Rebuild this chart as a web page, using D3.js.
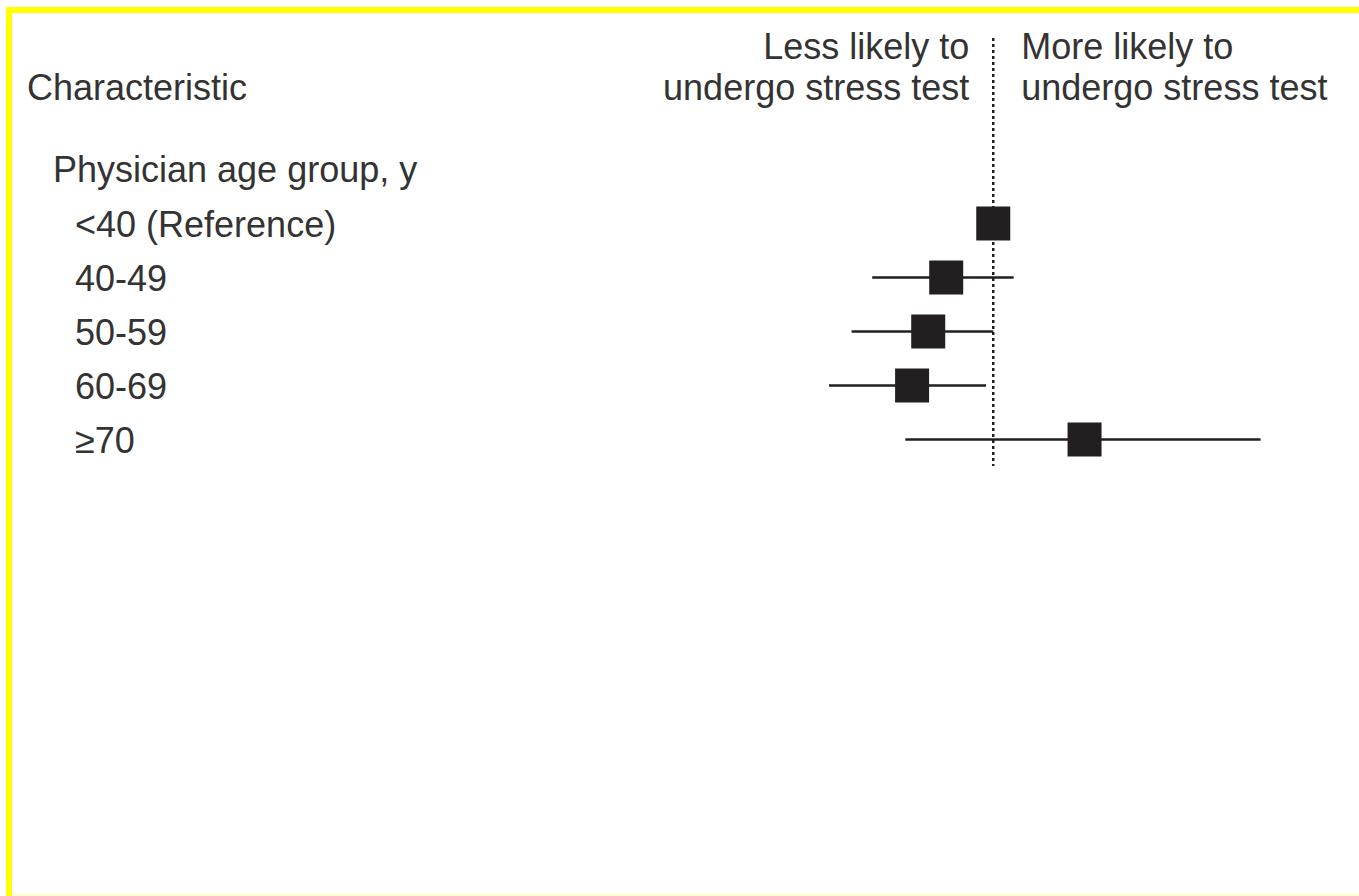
<!DOCTYPE html>
<html>
<head>
<meta charset="utf-8">
<script src="https://cdn.jsdelivr.net/npm/d3@7"></script>
<style>
  body { margin: 0; background: #fff; }
  text { font-family: "Liberation Sans", Arial, sans-serif; fill: #333; }
</style>
</head>
<body>
<svg width="1359" height="896"></svg>
<script>
/* forest plot */

// DATA ///////////////////////////////////////////////////////////////////////
const groupTitle = 'Physician age group, y';
const categories = ['<40 (Reference)', '40-49', '50-59', '60-69', '\u226570'];
const oddsRatio = [1.0, 0.82, 0.76, 0.71, 1.47];
const ciLow = [null, 0.6, 0.55, 0.5, 0.69];
const ciHigh = [null, 1.09, 1.0, 0.97, 3.09];
const leftHeader = ['Less likely to', 'undergo stress test'];
const rightHeader = ['More likely to', 'undergo stress test'];

// SET PARAMETERS /////////////////////////////////////////////////////////////
const svg = d3.select('svg');
const ink = '#231f20';
const boxSize = 34;

// x: log odds ratio, y: rows
const x = d3.scaleLog().domain([0.5, 2]).range([829, 1157.5]);
const y = d3.scalePoint().domain(categories).range([223.5, 439.5]);

const rows = categories.map((c, i) => ({
  label: c,
  or: oddsRatio[i],
  lo: ciLow[i],
  hi: ciHigh[i]
}));

// DRAW ///////////////////////////////////////////////////////////////////////
// frame
svg.append('line')
  .attr('x1', 6).attr('x2', 1359).attr('y1', 10).attr('y2', 10)
  .attr('stroke', '#ffff00').attr('stroke-width', 6);
svg.append('line')
  .attr('x1', 9).attr('x2', 9).attr('y1', 7).attr('y2', 896)
  .attr('stroke', '#ffff00').attr('stroke-width', 6);
svg.append('line')
  .attr('x1', 12).attr('x2', 1359).attr('y1', 895.5).attr('y2', 895.5)
  .attr('stroke', '#ffffa0').attr('stroke-width', 1);

// headers
svg.append('text')
  .attr('x', 27).attr('y', 100)
  .style('font-size', '36px')
  .text('Characteristic');

svg.append('text')
  .attr('x', x(1) - 24).attr('y', 59)
  .style('font-size', '36px')
  .style('text-anchor', 'end')
  .selectAll('tspan')
  .data(leftHeader)
  .enter()
  .append('tspan')
  .attr('x', x(1) - 24)
  .attr('dy', (d, i) => (i ? 41 : 0))
  .text(d => d);

svg.append('text')
  .attr('x', x(1) + 28).attr('y', 59)
  .style('font-size', '36px')
  .selectAll('tspan')
  .data(rightHeader)
  .enter()
  .append('tspan')
  .attr('x', x(1) + 28)
  .attr('dy', (d, i) => (i ? 41 : 0))
  .text(d => d);

// reference line at OR = 1
svg.append('line')
  .attr('x1', x(1)).attr('x2', x(1))
  .attr('y1', 38).attr('y2', 466)
  .attr('stroke', ink)
  .attr('stroke-width', 2.5)
  .attr('stroke-dasharray', '3,3');

// row labels
svg.append('text')
  .attr('x', 53).attr('y', 182)
  .style('font-size', '36px')
  .text(groupTitle);

svg.selectAll('.row-label')
  .data(rows)
  .enter()
  .append('text')
  .attr('class', 'row-label')
  .attr('x', 75)
  .attr('y', d => y(d.label) + 13)
  .style('font-size', '36px')
  .text(d => d.label);

// confidence intervals
svg.selectAll('.ci')
  .data(rows.filter(d => d.lo != null))
  .enter()
  .append('line')
  .attr('class', 'ci')
  .attr('x1', d => x(d.lo))
  .attr('x2', d => x(d.hi))
  .attr('y1', d => y(d.label))
  .attr('y2', d => y(d.label))
  .attr('stroke', ink)
  .attr('stroke-width', 2.7);

// point estimates
svg.selectAll('.box')
  .data(rows)
  .enter()
  .append('rect')
  .attr('class', 'box')
  .attr('x', d => x(d.or) - boxSize / 2)
  .attr('y', d => y(d.label) - boxSize / 2)
  .attr('width', boxSize)
  .attr('height', boxSize)
  .attr('fill', ink);
</script>
</body>
</html>
